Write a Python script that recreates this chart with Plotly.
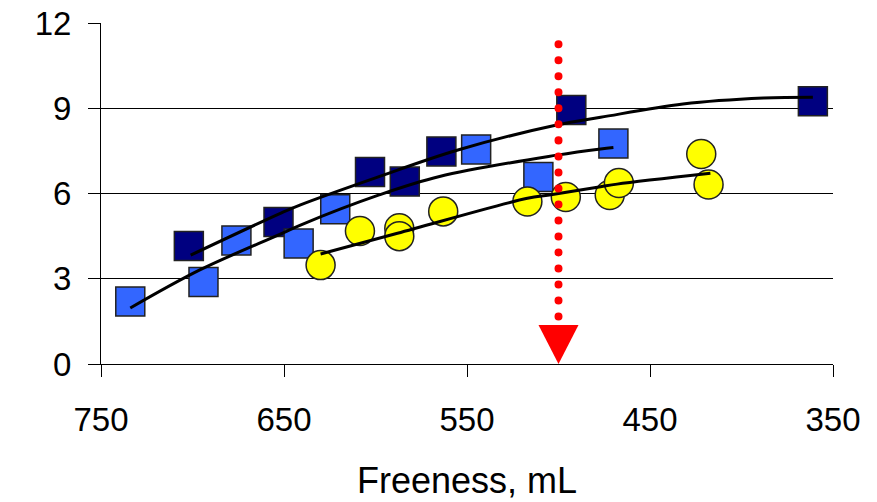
import plotly.graph_objects as go

# Data
navy_x = [702, 653, 603, 584, 564, 493, 361]
navy_y = [4.15, 5.0, 6.76, 6.42, 7.48, 8.94, 9.25]

blue_x = [734, 694, 676, 642, 622, 545, 511, 470]
blue_y = [2.2, 2.89, 4.35, 4.24, 5.45, 7.55, 6.58, 7.76]

yellow_x = [630, 608.5, 587, 587, 563, 517, 496, 472, 467, 422, 418]
yellow_y = [3.48, 4.68, 4.78, 4.5, 5.37, 5.72, 5.88, 5.95, 6.37, 7.39, 6.32]

# Trend curves
navy_fit_x = [701, 652, 641, 600, 555, 501, 477, 432, 388, 361]
navy_fit_y = [3.83, 5.3, 5.6, 6.55, 7.53, 8.41, 8.68, 9.15, 9.36, 9.39]

blue_fit_x = [734, 696, 652, 641, 598, 565, 501, 477, 470]
blue_fit_y = [1.97, 3.31, 4.57, 4.89, 5.95, 6.6, 7.35, 7.57, 7.62]

yellow_fit_x = [630, 588, 517, 505, 477, 468, 417]
yellow_fit_y = [3.87, 4.6, 5.83, 5.95, 6.24, 6.33, 6.71]

target_x = 500
target_top = 11.25
target_bottom = 1.6

x_ticks = [750, 650, 550, 450, 350]
y_ticks = [0, 3, 6, 9, 12]

FONT = "Liberation Sans, Arial, sans-serif"
outline = dict(color="#222222", width=1.5)

fig = go.Figure()

fig.add_trace(go.Scatter(x=navy_x, y=navy_y, mode="markers",
                         marker=dict(symbol="square", size=29, color="#000080", line=outline)))
fig.add_trace(go.Scatter(x=blue_x, y=blue_y, mode="markers",
                         marker=dict(symbol="square", size=29, color="#3366FF", line=outline)))
fig.add_trace(go.Scatter(x=yellow_x, y=yellow_y, mode="markers",
                         marker=dict(symbol="circle", size=29, color="#FFFF00", line=outline)))

for fx, fy in [(navy_fit_x, navy_fit_y), (blue_fit_x, blue_fit_y), (yellow_fit_x, yellow_fit_y)]:
    fig.add_trace(go.Scatter(x=fx, y=fy, mode="lines",
                             line=dict(color="black", width=3, shape="spline", smoothing=1.0)))

fig.add_trace(go.Scatter(x=[target_x, target_x], y=[target_top, target_bottom], mode="lines",
                         line=dict(color="#FF0000", width=8, dash="8px,8px")))

fig.add_shape(type="path", xref="x", yref="y", xsizemode="pixel", ysizemode="pixel",
              xanchor=target_x, yanchor=0,
              path="M-20,39 L20,39 L0,0 Z",
              fillcolor="#FF0000", line=dict(width=0))

fig.update_layout(
    width=877, height=502,
    margin=dict(l=101, r=44, t=23, b=138, autoexpand=False),
    paper_bgcolor="white", plot_bgcolor="white",
    showlegend=False,
    font=dict(family=FONT, size=33, color="black"),
)
fig.update_xaxes(
    range=[750, 350], autorange=False, automargin=False,
    tickvals=x_ticks, ticktext=[str(v) for v in x_ticks],
    showgrid=False, zeroline=False,
    showline=True, linecolor="black", linewidth=1,
    ticks="outside", ticklen=12, tickcolor="black", tickwidth=1,
    tickfont=dict(size=33, family=FONT), ticklabelstandoff=14,
    title=dict(text="Freeness, mL", font=dict(size=36, family=FONT), standoff=31),
)
fig.update_yaxes(
    range=[0, 12], autorange=False, automargin=False,
    tickvals=y_ticks, ticktext=[str(v) for v in y_ticks],
    showgrid=True, gridcolor="black", gridwidth=1,
    zeroline=False,
    showline=True, linecolor="black", linewidth=1,
    ticks="outside", ticklen=12, tickcolor="black", tickwidth=1,
    tickfont=dict(size=33, family=FONT), ticklabelstandoff=10,
)

post = """
document.body.style.margin = '0';
document.body.style.padding = '0';
var fix = function(){
  document.querySelectorAll('path.js-line').forEach(function(p){
    var s = p.style.stroke || '';
    if (s.replace(/\\s/g,'') === 'rgb(255,0,0)') {
      p.style.strokeLinecap = 'round';
      p.style.strokeDasharray = '0.01px,16px';
    }
  });
};
fix();
var gd = document.getElementsByClassName('plotly-graph-div')[0];
if (gd && gd.on) { gd.on('plotly_afterplot', fix); }
"""

fig.write_html("out.html", post_script=post, config={"displayModeBar": False})
